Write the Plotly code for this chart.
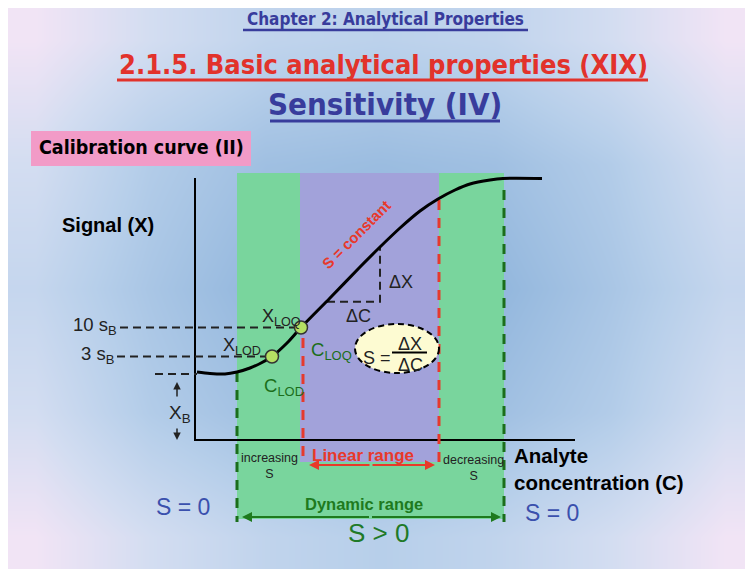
import plotly.graph_objects as go

# calibration curve, concentration C vs signal X (diagram units)
curve_c = [2, 15, 30, 42, 55, 67, 77, 92, 106, 135, 165, 185, 205, 225, 243, 260, 275, 295, 308, 347]
curve_s = [68, 66.5, 66, 68, 72, 77.5, 83.5, 97, 112.5, 142, 173, 193, 212, 229, 241, 250, 256, 260, 261.5, 261.5]

# key levels
x_blank = 66
x_lod = 83.5
x_loq = 112.5
c_lod = 77
c_loq = 106

# ranges on the concentration axis
dyn_range = [42, 309]
lin_range = [108, 244]

# slope triangle
tri_c = [132, 185, 185]
tri_s = [138.3, 138.3, 193]

# background gradient (corner = 1, centre = 0)
bg_z = [
    [1.0, 0.75, 0.55, 0.5, 0.55, 0.75, 1.0],
    [0.75, 0.4, 0.2, 0.15, 0.2, 0.4, 0.75],
    [0.6, 0.3, 0.05, 0.0, 0.05, 0.3, 0.6],
    [0.75, 0.4, 0.2, 0.1, 0.2, 0.4, 0.75],
    [1.0, 0.75, 0.55, 0.45, 0.55, 0.75, 1.0],
]

FONT = "Liberation Sans, Arial, sans-serif"
NARROW = "DejaVu Sans Condensed, Liberation Sans Narrow, sans-serif"
DKBLUE = "#383c9c"
RED = "#e2322b"
DKGREEN = "#1b6e1b"
GREEN = "#79d59d"
PURPLE = "#a2a2da"

W, H = 745, 561
X0, X1 = -187, -187 + W
Y0, Y1 = 432 - H, 432

fig = go.Figure()

fig.add_trace(go.Heatmap(
    z=bg_z,
    x=[X0 - 30 + i * ((X1 - X0 + 60) / 7) for i in range(8)],
    y=[Y1 + 30 - i * ((Y1 - Y0 + 60) / 5) for i in range(6)],
    zsmooth='best',
    colorscale=[[0, '#8db3db'], [0.45, '#b7cfea'], [0.75, '#d3ddf1'], [1, '#f1e4f5']],
    showscale=False, hoverinfo='skip'
))

# bands
band_top = 267
fig.add_trace(go.Scatter(
    x=[dyn_range[0], dyn_range[1], dyn_range[1], dyn_range[0], dyn_range[0]],
    y=[band_top, band_top, -79, -79, band_top],
    fill='toself', fillcolor=GREEN, line=dict(width=0), mode='lines', hoverinfo='skip'
))
fig.add_trace(go.Scatter(
    x=[lin_range[0] - 3, lin_range[1], lin_range[1], lin_range[0] - 3, lin_range[0] - 3],
    y=[band_top, band_top, -22, -22, band_top],
    fill='toself', fillcolor=PURPLE, line=dict(width=0), mode='lines', hoverinfo='skip'
))

# axes of the diagram
fig.add_trace(go.Scatter(x=[0, 0, 380], y=[262, 0, 0], mode='lines',
                         line=dict(color='black', width=2), hoverinfo='skip'))

# range boundaries
fig.add_trace(go.Scatter(x=[dyn_range[0], dyn_range[0]], y=[68, -82], mode='lines',
                         line=dict(color=DKGREEN, width=3, dash='10px,8px'), hoverinfo='skip'))
fig.add_trace(go.Scatter(x=[dyn_range[1], dyn_range[1]], y=[250, -82], mode='lines',
                         line=dict(color=DKGREEN, width=3, dash='10px,8px'), hoverinfo='skip'))
fig.add_trace(go.Scatter(x=[lin_range[0], lin_range[0]], y=[102, -24], mode='lines',
                         line=dict(color='#e53a2e', width=3, dash='10px,8px'), hoverinfo='skip'))
fig.add_trace(go.Scatter(x=[lin_range[1], lin_range[1]], y=[240, -24], mode='lines',
                         line=dict(color='#e53a2e', width=3, dash='10px,8px'), hoverinfo='skip'))

# horizontal dashed guides
for lvl, c0, c1 in [(x_loq, -75, c_loq), (x_lod, -78, c_lod), (x_blank, -40, 2)]:
    fig.add_trace(go.Scatter(x=[c0, c1], y=[lvl, lvl], mode='lines',
                             line=dict(color='#222', width=2, dash='8px,5px'), hoverinfo='skip'))

# slope triangle
fig.add_trace(go.Scatter(x=tri_c, y=tri_s, mode='lines',
                         line=dict(color='#222', width=2, dash='8px,5px'), hoverinfo='skip'))

# the calibration curve
fig.add_trace(go.Scatter(x=curve_c, y=curve_s, mode='lines',
                         line=dict(color='black', width=3, shape='spline', smoothing=0.8),
                         hoverinfo='skip'))

# LOD / LOQ points
fig.add_trace(go.Scatter(x=[c_lod, c_loq], y=[x_lod, x_loq], mode='markers',
                         marker=dict(size=13, color='#b5df63', line=dict(color='#333', width=1.5)),
                         hoverinfo='skip'))

fig.update_layout(
    width=W, height=H,
    margin=dict(l=0, r=0, t=0, b=0),
    paper_bgcolor='white', plot_bgcolor='white',
    showlegend=False,
    xaxis=dict(range=[X0, X1], visible=False, fixedrange=True),
    yaxis=dict(range=[Y0, Y1], visible=False, fixedrange=True),
)

# ellipse with the sensitivity formula
fig.add_shape(type='circle', xref='x', yref='y', x0=160, x1=244, y0=67, y1=116,
              fillcolor='#fdfbd2', line=dict(color='black', width=2, dash='6px,4px'), layer='above')
fig.add_shape(type='line', xref='x', yref='y', x0=197, x1=232, y0=87.5, y1=87.5,
              line=dict(color='black', width=2), layer='above')


def px(x):
    return (x - 8) / W


def py(y):
    return 1 - (y - 8) / H


# title block
fig.add_shape(type='rect', xref='paper', yref='paper', x0=px(31), x1=px(251),
              y0=py(166), y1=py(131), fillcolor='#f29bc7', line=dict(width=0), layer='above')
for a, b, yy, col, w in [(243, 528, 30, DKBLUE, 2.5), (117, 648, 80, RED, 3), (270, 500, 121, DKBLUE, 3)]:
    fig.add_shape(type='line', xref='paper', yref='paper', x0=px(a), x1=px(b),
                  y0=py(yy), y1=py(yy), line=dict(color=col, width=w), layer='above')


def ptxt(text, x, y, size, color, family=NARROW):
    fig.add_annotation(text=text, xref='paper', yref='paper', x=px(x), y=py(y),
                       xanchor='center', yanchor='middle',
                       showarrow=False, font=dict(family=family, size=size, color=color))


ptxt("<b>Chapter 2: Analytical Properties</b>", 385, 19, 17, DKBLUE)
ptxt("<b>2.1.5. Basic analytical properties (XIX)</b>", 383, 64, 27, RED)
ptxt("<b>Sensitivity (IV)</b>", 385, 104, 31, DKBLUE)
ptxt("<b>Calibration curve (II)</b>", 141, 148, 19.5, 'black')


def txt(text, c, s, size, color='#222', xanchor='center', angle=0, align='center'):
    fig.add_annotation(text=text, x=c, y=s, xref='x', yref='y', showarrow=False,
                       xanchor=xanchor, yanchor='middle', textangle=angle, align=align,
                       font=dict(family=FONT, size=size, color=color))


txt("<b>Signal (X)</b>", -87, 215, 20, 'black')
txt("10 s<sub>B</sub>", -76, 114, 18.5, xanchor='right')
txt("3 s<sub>B</sub>", -79, 85, 18.5, xanchor='right')
txt("X<sub>B</sub>", -15, 26, 19)
txt("X<sub>LOQ</sub>", 86, 123, 18)
txt("X<sub>LOD</sub>", 47, 94, 18)
txt("C<sub>LOQ</sub>", 114, 89, 18.5, DKGREEN, xanchor='left')
txt("C<sub>LOD</sub>", 89, 53, 18.5, DKGREEN)
txt("<b>S = constant</b>", 161, 206, 15, '#e8392a', angle=-45)
txt("ΔX", 192, 158, 18, xanchor='left')
txt("ΔC", 163, 124, 18)
txt("S =", 182, 82, 18)
txt("ΔX", 215, 96, 18)
txt("ΔC", 215, 75, 18)
txt("<b>Analyte<br>concentration (C)</b>", 317, -29, 20.5, 'black', xanchor='left', align='left')
txt("increasing<br>S", 74, -26, 12.5)
txt("decreasing<br>S", 278, -28, 12.5)
txt("<b>Linear range</b>", 168, -15, 17, '#e8392a')
txt("<b>Dynamic range</b>", 169, -64, 16.5, '#1e7a1e')
txt("S = 0", -12, -67, 23, '#3a50ad')
txt("S = 0", 357, -73, 23, '#3a50ad')
txt("S > 0", 183, -93, 26, '#1f7a28')


def arrow(c_tip, s_tip, c_tail, s_tail, color, width=2, head=2):
    fig.add_annotation(x=c_tip, y=s_tip, ax=c_tail, ay=s_tail, xref='x', yref='y',
                       axref='x', ayref='y', text='', showarrow=True, arrowhead=head,
                       arrowsize=1, arrowwidth=width, arrowcolor=color)


# X_B arrows
arrow(-18, 58, -18, 42, '#222', 1.5)
arrow(-18, 0, -18, 13, '#222', 1.5)
# linear range double arrow
mid_lin = (lin_range[0] + lin_range[1]) / 2
arrow(lin_range[0] + 6, -25, mid_lin, -25, '#e8392a', 2)
arrow(lin_range[1] - 4, -25, mid_lin, -25, '#e8392a', 2)
# dynamic range double arrow
mid_dyn = (dyn_range[0] + dyn_range[1]) / 2
arrow(dyn_range[0] + 5, -77, mid_dyn, -77, '#1e7a1e', 2)
arrow(dyn_range[1] - 3, -77, mid_dyn, -77, '#1e7a1e', 2)

fig.write_html("out.html")
